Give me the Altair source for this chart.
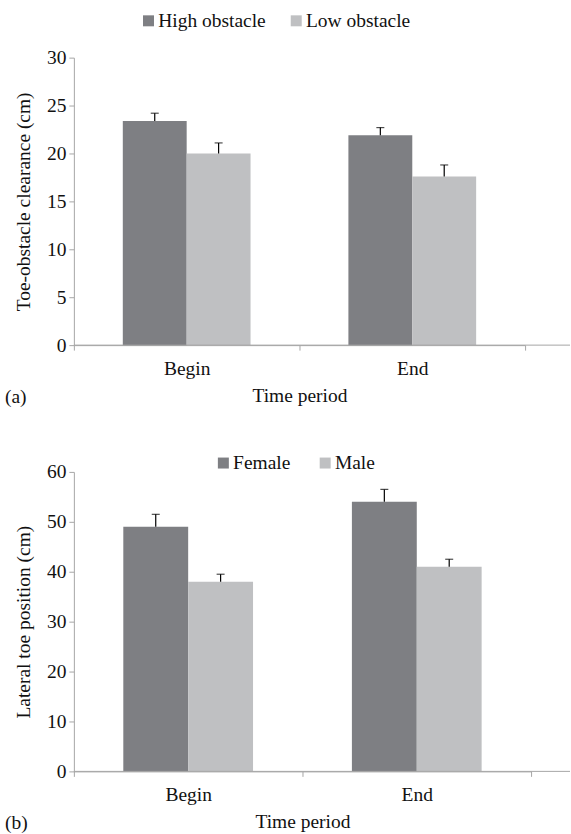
import altair as alt
import pandas as pd

periods = ["Begin", "End"]

top_groups = ["High obstacle", "Low obstacle"]
top_means = [23.4, 20.0, 21.9, 17.6]
top_errs = [0.8, 1.1, 0.8, 1.2]

bottom_groups = ["Female", "Male"]
bottom_means = [49.0, 38.0, 54.0, 41.0]
bottom_errs = [2.5, 1.5, 2.5, 1.5]

colors = ["#7e7f83", "#bfc0c2"]
axis_gray = "#a6a6a6"
FONT = "Liberation Serif"
FS = 19.5


def make_df(groups, means, errs):
    rows = []
    i = 0
    for p in periods:
        for g in groups:
            rows.append({"period": p, "group": g, "mean": means[i], "upper": means[i] + errs[i]})
            i += 1
    return pd.DataFrame(rows)


def panel(df, groups, ymax, ystep, ytitle, tag, w, h, lx, ly, colpad, pad_outer):
    x = alt.X("period:N", sort=periods, title="Time period",
              scale=alt.Scale(paddingInner=0, paddingOuter=0),
              axis=alt.Axis(labelAngle=0, tickBand="extent", domainColor=axis_gray,
                            tickColor=axis_gray, tickSize=5, labelPadding=9,
                            titlePadding=9, labelFontSize=FS, titleFontSize=FS,
                            labelFont=FONT, titleFont=FONT,
                            titleFontWeight="normal", labelColor="#111", titleColor="#111"))
    xo = alt.XOffset("group:N", sort=groups, scale=alt.Scale(paddingInner=0, paddingOuter=pad_outer))
    y = alt.Y("mean:Q", title=ytitle,
              scale=alt.Scale(domain=[0, ymax], nice=False),
              axis=alt.Axis(values=list(range(0, ymax + 1, ystep)), grid=False,
                            domainColor=axis_gray, tickColor=axis_gray, tickSize=5,
                            labelPadding=3, titlePadding=13, labelFontSize=FS,
                            titleFontSize=FS, titleFontWeight="normal",
                            labelFont=FONT, titleFont=FONT,
                            labelColor="#111", titleColor="#111"))
    color = alt.Color("group:N", sort=groups,
                      scale=alt.Scale(domain=groups, range=colors),
                      legend=alt.Legend(orient="none", legendX=lx, legendY=ly,
                                        direction="horizontal", title=None,
                                        symbolType="square", symbolSize=121,
                                        symbolStrokeWidth=0, labelFontSize=FS,
                                        labelFont=FONT,
                                        labelOffset=0, columnPadding=colpad,
                                        labelColor="#111", symbolOpacity=1))
    base = alt.Chart(df)
    bars = base.mark_bar(opacity=1).encode(x=x, xOffset=xo, y=y, color=color)
    rules = base.mark_rule(color="black", strokeWidth=1.2).encode(
        x=alt.X("period:N", sort=periods), xOffset=xo, y="mean:Q", y2="upper:Q")
    caps = base.mark_tick(color="black", thickness=1.2, size=8, orient="horizontal").encode(
        x=alt.X("period:N", sort=periods), xOffset=xo, y="upper:Q")
    baseline = alt.Chart(pd.DataFrame({"v": [0]})).mark_rule(color=axis_gray, strokeWidth=1).encode(
        x=alt.value(0), x2=alt.value(497), y=alt.value(h))
    label = alt.Chart(pd.DataFrame({"t": [tag]})).mark_text(
        align="left", baseline="middle", fontSize=FS, font=FONT, color="#111").encode(
        x=alt.value(-69), y=alt.value(h + 52), text="t:N")
    return alt.layer(bars, rules, caps, baseline, label).properties(width=w, height=h)


top = panel(make_df(top_groups, top_means, top_errs), top_groups, 30, 5,
            "Toe-obstacle clearance (cm)", "(a)", 452, 288, 65, -47, 20, 0.766)
bottom = panel(make_df(bottom_groups, bottom_means, bottom_errs), bottom_groups, 60, 10,
               "Lateral toe position (cm)", "(b)", 458, 300, 140, -19, 25, 0.762)

chart = alt.vconcat(top, bottom, spacing=127, bounds="flush").resolve_scale(
    color="independent", x="independent", y="independent", xOffset="independent"
).properties(
    padding={"left": 5, "top": 10, "right": 0, "bottom": 2}
).configure(font=FONT).configure_view(stroke=None)

chart.save("out.html", embed_options={"renderer": "svg", "actions": False})
